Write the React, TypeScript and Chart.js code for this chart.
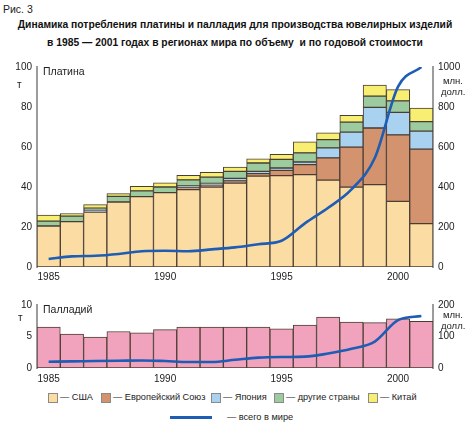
import React, { useEffect, useRef } from "react";
import { Chart, registerables } from "chart.js";

Chart.register(...registerables);

const years = ["1985","1986","1987","1988","1989","1990","1991","1992","1993","1994","1995","1996","1997","1998","1999","2000","2001"];
const shownYears = ["1985", "1990", "1995", "2000"];

// Platinum, tonnes (stacked segments)
const ptUSA = [20.5, 22.7, 27.4, 32.5, 35.2, 37.2, 38.7, 40.0, 42.0, 45.4, 45.7, 46.2, 43.4, 39.9, 41.2, 32.8, 21.7];
const ptEU = [0, 0, 0, 0, 0, 0, 1.0, 1.0, 1.1, 1.3, 2.6, 5.0, 11.2, 20.0, 28.3, 33.3, 37.2];
const ptJapan = [0, 0, 1.0, 0, 0, 0, 0.8, 0.8, 1.2, 1.1, 1.2, 1.3, 5.0, 7.5, 10.3, 11.2, 9.0];
const ptOther = [2.4, 2.7, 1.0, 2.8, 2.9, 2.8, 3.1, 3.1, 3.5, 4.2, 4.3, 4.6, 4.1, 5.0, 5.6, 5.8, 4.8];
const ptChina = [3.0, 1.3, 1.8, 1.4, 2.2, 2.1, 2.2, 2.4, 2.2, 2.1, 2.5, 5.5, 3.4, 3.4, 5.5, 5.6, 6.8];
// Platinum world value, mln USD
const ptValue = [40, 53, 56, 65, 79, 81, 79, 88, 98, 114, 131, 218, 296, 388, 545, 902, 1000];

// Palladium, tonnes
const pdTonnes = [6.5, 5.4, 4.9, 5.8, 5.6, 6.1, 6.5, 6.5, 6.5, 6.5, 6.2, 6.8, 8.1, 7.3, 7.2, 7.8, 7.4];
// Palladium world value, mln USD
const pdValue = [20, 21, 22, 23, 24, 22, 19, 19, 26, 33, 35, 36, 46, 61, 84, 152, 165];

const cUSA = "#fbdca3";
const cEU = "#d3936e";
const cJapan = "#a9d2f1";
const cOther = "#9ccb9f";
const cChina = "#f8ef72";
const cPd = "#f1a3bd";
const cLine = "#1d5db5";
const cBorder = "#4a3d33";
const cAxis = "#9c9c9c";

const FONT = "'Liberation Sans', Arial, sans-serif";

function xScale(height: number, pad: number) {
  return {
    type: "category" as const,
    stacked: true,
    grid: { display: false, drawTicks: false },
    border: { display: false },
    ticks: {
      autoSkip: false,
      maxRotation: 0,
      padding: pad,
      color: "#222",
      font: { size: 10, family: FONT },
      callback: function (this: any, val: any) {
        const l = this.getLabelForValue(val);
        return shownYears.includes(l) ? l : "";
      },
    },
    afterFit: (s: any) => { s.height = height; },
  };
}

function yScale(pos: "left" | "right", max: number, step: number, stacked: boolean) {
  return {
    type: "linear" as const,
    position: pos,
    min: 0,
    max,
    stacked,
    grid: { display: false, drawTicks: false },
    border: { display: true, color: cAxis, width: 2 },
    ticks: {
      stepSize: step,
      padding: 5,
      color: "#222",
      font: { size: 10, family: FONT },
      callback: (v: any) => String(v),
    },
    afterFit: (s: any) => { s.width = 37; },
  };
}

function barDs(label: string, data: number[], color: string) {
  return {
    type: "bar" as const,
    label,
    data,
    backgroundColor: color,
    borderColor: cBorder,
    borderWidth: 1,
    borderSkipped: false as const,
    barPercentage: 1,
    categoryPercentage: 1,
    yAxisID: "y",
    order: 2,
    stack: "s",
  };
}

function lineDs(data: number[]) {
  return {
    type: "line" as const,
    label: "всего в мире",
    data,
    borderColor: cLine,
    borderWidth: 2.6,
    pointRadius: 0,
    cubicInterpolationMode: "monotone" as const,
    yAxisID: "y2",
    order: 0,
    fill: false,
  };
}

export default function App() {
  const topRef = useRef<HTMLCanvasElement>(null);
  const botRef = useRef<HTMLCanvasElement>(null);

  useEffect(() => {
    const common = {
      responsive: false,
      animation: false as const,
      plugins: { legend: { display: false }, tooltip: { enabled: false } },
    };
    const top = new Chart(topRef.current!, {
      type: "bar",
      data: {
        labels: years,
        datasets: [
          lineDs(ptValue),
          barDs("США", ptUSA, cUSA),
          barDs("Европейский Союз", ptEU, cEU),
          barDs("Япония", ptJapan, cJapan),
          barDs("другие страны", ptOther, cOther),
          barDs("Китай", ptChina, cChina),
        ] as any,
      },
      options: {
        ...common,
        layout: { padding: { top: 10, left: 0, right: 0, bottom: 0 } },
        scales: {
          x: xScale(21, 4),
          y: yScale("left", 100, 20, true),
          y2: yScale("right", 1000, 200, false),
        },
      } as any,
    });
    const bot = new Chart(botRef.current!, {
      type: "bar",
      data: {
        labels: years,
        datasets: [
          lineDs(pdValue),
          barDs("Палладий", pdTonnes, cPd),
        ] as any,
      },
      options: {
        ...common,
        layout: { padding: { top: 8, left: 0, right: 0, bottom: 0 } },
        scales: {
          x: xScale(18, 5),
          y: yScale("left", 10, 5, true),
          y2: yScale("right", 200, 100, false),
        },
      } as any,
    });
    return () => { top.destroy(); bot.destroy(); };
  }, []);

  const txt = (extra: React.CSSProperties): React.CSSProperties => ({
    position: "absolute",
    fontFamily: FONT,
    fontSize: 10,
    color: "#222",
    whiteSpace: "nowrap",
    lineHeight: 1,
    ...extra,
  });

  const legendItems: [string, string, number][] = [
    ["США", cUSA, 48],
    ["Европейский Союз", cEU, 101],
    ["Япония", cJapan, 211],
    ["другие страны", cOther, 274],
    ["Китай", cChina, 368],
  ];

  return (
    <div style={{ position: "absolute", left: 0, top: 0, width: 470, height: 423, background: "#fff", overflow: "hidden" }}>
      <div style={txt({ left: 3, top: 4, fontSize: 10.5 })}>Рис. 3</div>
      <div style={txt({ left: 0, width: 470, top: 20, fontSize: 10.3, fontWeight: "bold", textAlign: "center", color: "#111" })}>
        Динамика потребления платины и палладия для производства ювелирных изделий
      </div>
      <div style={txt({ left: 0, width: 470, top: 38, fontSize: 10.3, fontWeight: "bold", textAlign: "center", color: "#111", whiteSpace: "pre" })}>
        {"в 1985 — 2001 годах в регионах мира по объему  и по годовой стоимости"}
      </div>

      <canvas ref={topRef} width={470} height={232} style={{ position: "absolute", left: 0, top: 56 }} />
      <canvas ref={botRef} width={470} height={92} style={{ position: "absolute", left: 0, top: 294 }} />

      <div style={txt({ left: 43, top: 66, fontSize: 10.5 })}>Платина</div>
      <div style={txt({ left: 17, top: 80, fontSize: 10 })}>т</div>
      <div style={txt({ left: 443, top: 76, fontSize: 9.5 })}>млн.</div>
      <div style={txt({ left: 441, top: 87, fontSize: 9.5 })}>долл.</div>

      <div style={txt({ left: 43, top: 304, fontSize: 10.5 })}>Палладий</div>
      <div style={txt({ left: 18, top: 313, fontSize: 10 })}>т</div>
      <div style={txt({ left: 443, top: 310, fontSize: 9.5 })}>млн.</div>
      <div style={txt({ left: 441, top: 321, fontSize: 9.5 })}>долл.</div>

      {legendItems.map(([label, color, x]) => (
        <React.Fragment key={label}>
          <div style={{ position: "absolute", left: x, top: 393, width: 8, height: 8, background: color, border: "1px solid #8a8a8a" }} />
          <div style={txt({ left: x + 12, top: 392.5, fontSize: 9.2 })}>— {label}</div>
        </React.Fragment>
      ))}
      <div style={{ position: "absolute", left: 170, top: 416, width: 42, height: 3, background: cLine }} />
      <div style={txt({ left: 227, top: 413, fontSize: 9.2 })}>— всего в мире</div>
    </div>
  );
}
